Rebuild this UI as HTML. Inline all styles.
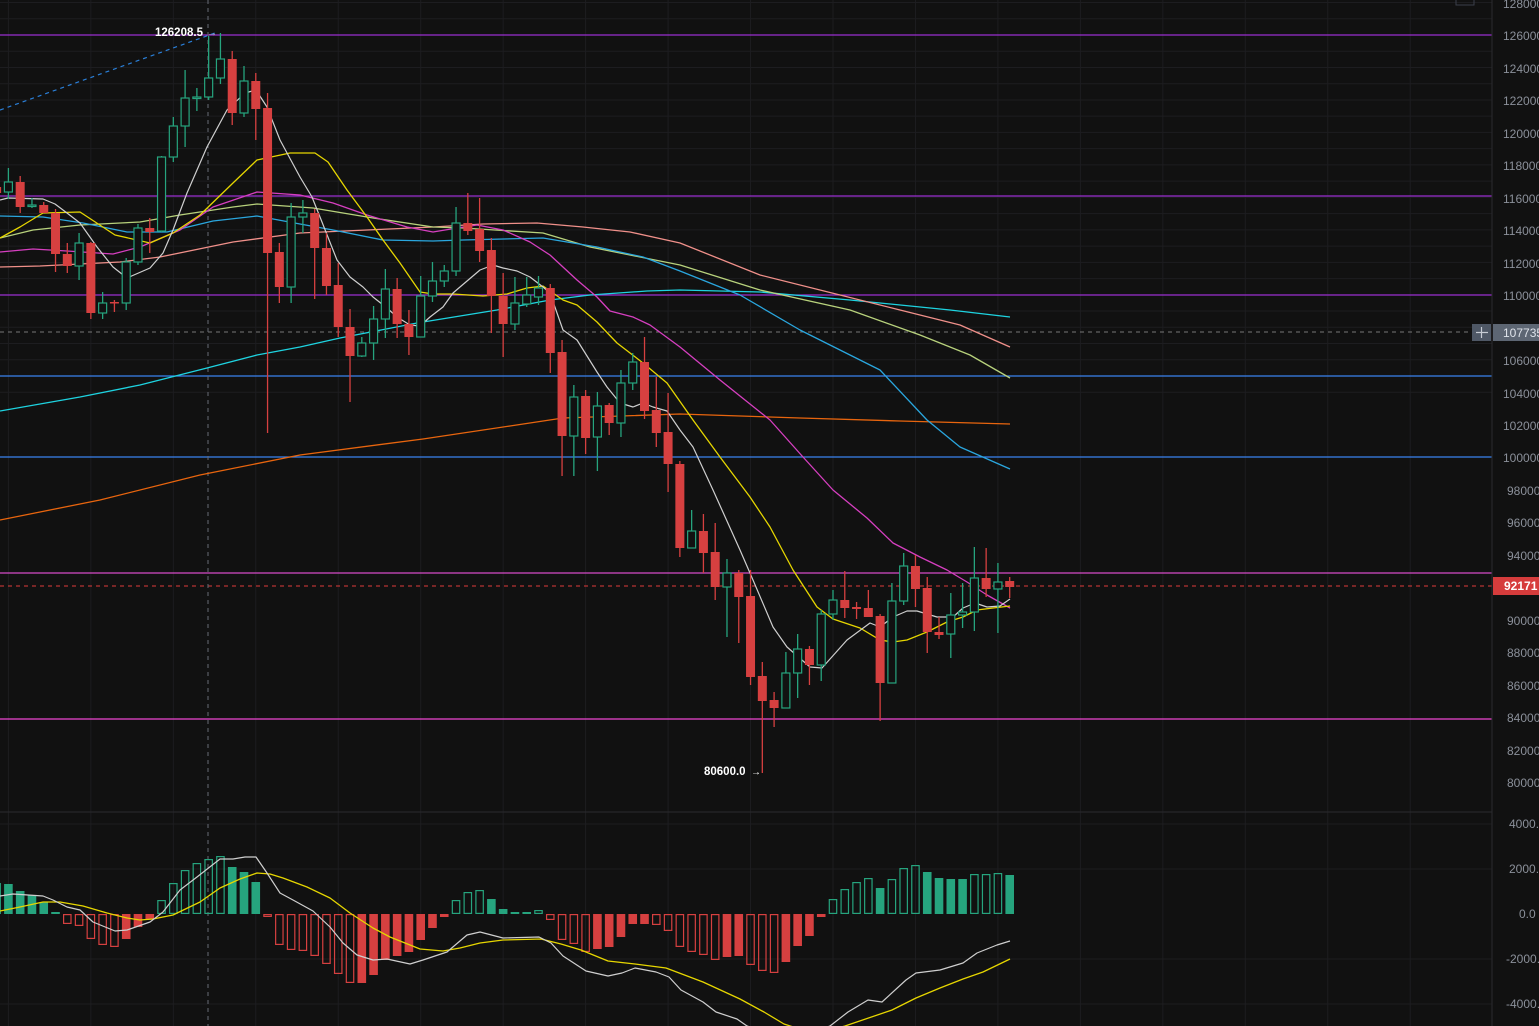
<!DOCTYPE html>
<html><head><meta charset="utf-8"><style>
html,body{margin:0;padding:0;background:#111111;overflow:hidden;}
svg{display:block;font-family:"Liberation Sans",sans-serif;}
</style></head><body>
<svg id="c" width="1539" height="1026" xmlns="http://www.w3.org/2000/svg">
<rect width="1539" height="1026" fill="#111111"/>
<g id="grid"></g>
<g id="hl">
<line x1="0" y1="35" x2="1492" y2="35" stroke="#9a2fd0" stroke-width="1.2"/>
<line x1="0" y1="196" x2="1492" y2="196" stroke="#9a2fd0" stroke-width="1.2"/>
<line x1="0" y1="295" x2="1492" y2="295" stroke="#9a2fd0" stroke-width="1.2"/>
<line x1="0" y1="332" x2="1470" y2="332" stroke="#777" stroke-width="1" stroke-dasharray="4,4"/>
<line x1="0" y1="376" x2="1492" y2="376" stroke="#3b82f0" stroke-width="1.2"/>
<line x1="0" y1="457" x2="1492" y2="457" stroke="#3b82f0" stroke-width="1.2"/>
<line x1="0" y1="573" x2="1492" y2="573" stroke="#d64bc8" stroke-width="1.2"/>
<line x1="0" y1="586" x2="1492" y2="586" stroke="#e03a3a" stroke-width="1" stroke-dasharray="4,4"/>
<line x1="0" y1="719" x2="1492" y2="719" stroke="#f046d4" stroke-width="1.3"/>
<line x1="208" y1="0" x2="208" y2="1026" stroke="#666a75" stroke-width="1" stroke-dasharray="4,4"/>
<line x1="0" y1="110" x2="215" y2="33" stroke="#2a7fd8" stroke-width="1.2" stroke-dasharray="4,4"/>
</g>
<g id="ma"></g>
<g id="candles"></g>
<g id="macd"></g>
<line x1="0" y1="812" x2="1539" y2="812" stroke="#2a2a2e" stroke-width="1"/>
<rect x="1492" y="0" width="47" height="1026" fill="#111111"/>
<line x1="1492" y1="0" x2="1492" y2="1026" stroke="#2a2a2e" stroke-width="1"/>
<rect x="1456" y="-2" width="18" height="7" fill="none" stroke="#3a3f4a"/>
<g fill="#8b909a" font-size="12">
<text x="1503" y="8">128000</text>
<text x="1503" y="40">126000</text>
<text x="1503" y="73">124000</text>
<text x="1503" y="105">122000</text>
<text x="1503" y="138">120000</text>
<text x="1503" y="170">118000</text>
<text x="1503" y="203">116000</text>
<text x="1503" y="235">114000</text>
<text x="1503" y="268">112000</text>
<text x="1503" y="300">110000</text>
<text x="1503" y="365">106000</text>
<text x="1503" y="398">104000</text>
<text x="1503" y="430">102000</text>
<text x="1503" y="462">100000</text>
<text x="1507" y="495">98000</text>
<text x="1507" y="527">96000</text>
<text x="1507" y="560">94000</text>
<text x="1507" y="625">90000</text>
<text x="1507" y="657">88000</text>
<text x="1507" y="690">86000</text>
<text x="1507" y="722">84000</text>
<text x="1507" y="755">82000</text>
<text x="1507" y="787">80000</text>
<text x="1509" y="828">4000.0</text>
<text x="1509" y="873">2000.0</text>
<text x="1519" y="918">0.0</text>
<text x="1506" y="963">-2000.0</text>
<text x="1506" y="1008">-4000.0</text>
</g>
<rect x="1472" y="324" width="19" height="17" fill="#4f5866"/>
<line x1="1476" y1="332.5" x2="1488" y2="332.5" stroke="#c8ccd4" stroke-width="1.2"/>
<line x1="1481.5" y1="327" x2="1481.5" y2="338" stroke="#c8ccd4" stroke-width="1.2"/>
<rect x="1493" y="324" width="46" height="17" fill="#5d6673"/>
<text x="1503" y="337" fill="#dfe3ea" font-size="12">107735</text>
<rect x="1493" y="577" width="46" height="18" fill="#d63c3c"/>
<text x="1504" y="590" fill="#ffffff" font-size="12" font-weight="bold">92171</text>
<text x="155" y="36" fill="#ffffff" font-size="11.5" font-weight="bold">126208.5</text>
<text x="207" y="36" fill="#aaaaaa" font-size="10">→</text>
<text x="704" y="775" fill="#ffffff" font-size="11.5" font-weight="bold">80600.0</text>
<text x="751" y="775" fill="#ffffff" font-size="10">→</text>
</svg>
<script>
var NS="http://www.w3.org/2000/svg";
function el(p,t,a){var e=document.createElementNS(NS,t);for(var k in a)e.setAttribute(k,a[k]);p.appendChild(e);return e;}
var X=function(i){return 8.4+11.78*i;};
var g=document.getElementById('grid');
for(var k=0;k<19;k++){var x=8.4+82.46*k;if(x<1492)el(g,'line',{x1:x,y1:0,x2:x,y2:1026,stroke:'#1d1d20','stroke-width':1});}
for(var k=0;k<25;k++){var y=2.5+16.24*k;el(g,'line',{x1:0,y1:y,x2:1492,y2:y,stroke:'#1d1d20','stroke-width':1});}
[824,869,959,1004].forEach(function(y){el(g,'line',{x1:0,y1:y,x2:1492,y2:y,stroke:'#1d1d20','stroke-width':1});});
var C=[[187,193,184,195],[192,182,168,199],[182,207,176,213],[206,205,198,208],[205,213,202,213],[213,254,209,272],[254,266,243,273],[266,243,233,280],[243,313,242,319],[313,303,292,319],[302,303,300,312],[303,262,258,310],[262,228,224,265],[228,232,218,253],[231,157,156,232],[157,126,117,162],[126,98,70,147],[98,97,88,111],[97,78,36,100],[78,59,33,84],[59,113,51,125],[113,81,66,117],[81,109,73,140],[108,253,93,433],[252,287,243,303],[287,217,203,303],[217,213,200,233],[213,248,209,299],[248,286,233,295],[285,327,263,337],[327,356,309,402],[356,343,337,357],[343,319,306,360],[319,289,269,338],[289,324,278,338],[324,337,310,355],[337,296,276,337],[296,281,262,302],[281,271,265,287],[271,223,207,276],[223,231,193,235],[229,251,198,262],[250,296,238,333],[296,324,273,357],[324,303,277,330],[304,295,277,307],[297,288,276,305],[288,353,284,373],[352,436,340,476],[436,397,385,476],[396,438,390,454],[437,406,392,471],[405,423,403,435],[423,383,370,437],[383,362,353,390],[362,411,337,419],[410,433,377,447],[432,464,393,492],[464,548,461,557],[548,531,510,548],[531,553,514,573],[552,587,523,600],[587,573,559,637],[573,597,570,643],[596,677,570,685],[676,701,662,773],[700,708,692,727],[708,673,652,708],[673,649,634,698],[649,665,646,685],[665,614,610,681],[614,600,590,620],[600,608,571,618],[607,609,602,619],[608,617,590,617],[616,683,614,721],[683,601,583,683],[601,566,553,605],[566,589,555,607],[588,632,577,653],[632,635,617,639],[634,615,593,658],[615,612,583,628],[612,578,547,631],[578,589,548,597],[589,582,563,633],[581,587,577,598]];
var G='#26a47e',R='#d64040';
var cg=document.getElementById('candles');
C.forEach(function(c,j){var i=j-1,x=X(i),up=c[1]<c[0],col=up?G:R;
var t=Math.min(c[0],c[1]),b=Math.max(c[0],c[1]);if(b-t<1.5)b=t+1.5;
el(cg,'line',{x1:x,y1:c[2],x2:x,y2:t,stroke:col,'stroke-width':1.3});
el(cg,'line',{x1:x,y1:b,x2:x,y2:c[3],stroke:col,'stroke-width':1.3});
if(up)el(cg,'rect',{x:x-4,y:t,width:8,height:b-t,fill:'#111111',stroke:col,'stroke-width':1.2});
else el(cg,'rect',{x:x-4.5,y:t,width:9,height:b-t,fill:col});});
function pl(p,pts,col,w){el(p,'polyline',{points:pts.map(function(q){return q.join(',');}).join(' '),fill:'none',stroke:col,'stroke-width':w||1.3,'stroke-linejoin':'round'});}
var m=document.getElementById('ma');
pl(m,[[0,520],[100,500],[200,475],[300,455],[423,439],[510,426],[563,418],[680,414],[800,418],[900,421],[1010,424]],'#e8650e');
pl(m,[[0,411],[80,397],[140,385],[207,368],[257,355],[300,347],[340,338],[417,323],[497,310],[550,300],[590,295],[647,291],[680,290],[760,292],[850,300],[950,310],[1010,317]],'#1ed3e0');
pl(m,[[0,267],[40,266],[120,262],[160,257],[233,242],[300,233],[367,230],[433,227],[483,224],[537,223],[583,227],[630,232],[680,243],[760,275],[840,295],[900,310],[960,325],[1010,347]],'#f0908a');
pl(m,[[0,238],[33,230],[80,225],[140,222],[180,215],[233,207],[257,204],[313,208],[373,218],[433,227],[463,228],[543,233],[590,247],[630,255],[680,265],[760,290],[850,310],[920,335],[970,355],[1010,378]],'#b8d27c');
pl(m,[[0,216],[43,217],[83,223],[127,232],[167,232],[213,221],[257,216],[300,224],[333,230],[383,240],[433,241],[463,240],[543,238],[597,247],[643,257],[680,271],[740,295],[800,330],[880,370],[927,420],[960,447],[1010,469]],'#2aa6de');
pl(m,[[0,252],[33,249],[67,251],[113,254],[140,247],[180,230],[213,207],[257,192],[300,195],[333,203],[367,215],[407,227],[433,232],[457,228],[477,225],[503,230],[530,242],[550,255],[577,280],[597,297],[610,311],[633,317],[650,325],[680,347],[720,380],[770,420],[803,457],[833,490],[867,518],[893,543],[920,557],[947,570],[967,582],[987,595],[1010,608]],'#d63fc0');
pl(m,[[0,238],[20,227],[43,213],[80,212],[115,235],[150,243],[173,233],[200,215],[233,183],[257,160],[290,153],[315,153],[328,162],[347,190],[367,217],[383,240],[400,263],[420,292],[433,294],[453,294],[483,296],[507,294],[527,288],[543,286],[563,300],[577,305],[597,322],[617,343],[643,363],[667,383],[693,420],[720,457],[750,497],[770,527],[793,570],[817,607],[833,619],[860,628],[880,640],[893,642],[907,640],[927,632],[947,622],[963,617],[977,610],[993,608],[1010,606]],'#e6d600');
pl(m,[[0,200],[8,198],[43,199],[55,204],[67,213],[80,223],[97,247],[113,267],[127,278],[150,268],[163,253],[173,230],[187,193],[207,147],[227,110],[245,93],[256,90],[267,107],[280,140],[300,177],[312,197],[320,217],[337,260],[350,277],[363,287],[373,297],[387,308],[397,317],[410,325],[420,326],[430,317],[443,307],[453,293],[460,287],[480,270],[493,265],[503,268],[517,271],[530,277],[543,287],[550,293],[563,330],[577,340],[597,372],[607,387],[620,403],[633,407],[643,403],[653,407],[667,411],[680,430],[693,447],[713,490],[740,550],[753,580],[773,627],[787,647],[810,667],[822,668],[847,640],[870,623],[880,627],[893,617],[907,611],[917,611],[937,617],[953,617],[963,608],[975,603],[987,607],[1000,606],[1010,599]],'#cfcfcf',1.2);
var H=[[883,1],[884,1],[891,1],[895,1],[902,1],[913,1],[924,0],[926,0],[939,0],[945,0],[947,0],[939,1],[927,1],[919,1],[900,0],[883,0],[870,0],[863,0],[859,0],[856,0],[867,1],[872,1],[882,1],[917,0],[945,0],[950,0],[951,0],[956,0],[964,0],[974,0],[983,0],[983,1],[975,1],[960,1],[956,1],[952,1],[940,1],[928,1],[917,1],[900,0],[892,0],[890,0],[899,1],[909,1],[912,1],[912,1],[910,0],[920,0],[940,0],[944,0],[952,0],[949,1],[947,1],[937,1],[924,1],[924,1],[925,0],[931,0],[947,0],[952,0],[955,0],[960,0],[957,1],[956,1],[965,0],[971,0],[973,0],[962,1],[946,1],[936,1],[917,1],[899,0],[889,0],[882,0],[878,0],[888,1],[879,0],[868,0],[865,0],[872,1],[878,1],[879,1],[879,1],[874,0],[874,0],[873,0],[875,1]];
var md=document.getElementById('macd');
H.forEach(function(h,j){var i=j-1,x=X(i),v=h[0],up=v<914,col=up?G:R;
var t=Math.min(v,914),b=Math.max(v,914);if(b-t<2){if(up)t=b-2;else b=t+2;}
if(h[1])el(md,'rect',{x:x-4.3,y:t,width:8.6,height:b-t,fill:col});
else el(md,'rect',{x:x-3.7,y:t+0.6,width:7.4,height:b-t-1.2,fill:'none',stroke:col,'stroke-width':1.2});});
pl(md,[[0,911],[20,907],[43,902],[60,902],[83,906],[107,913],[127,918],[140,920],[153,919],[173,915],[200,902],[220,888],[240,879],[257,873],[270,874],[283,878],[307,887],[330,898],[350,913],[373,928],[390,937],[420,949],[443,951],[460,948],[480,943],[503,940],[541,939],[561,944],[581,950],[608,961],[635,964],[666,968],[703,982],[740,999],[764,1012],[784,1024],[815,1034],[845,1026],[892,1010],[916,998],[940,988],[963,979],[983,972],[1010,959]],'#e6d600');
pl(md,[[0,896],[13,894],[43,896],[53,900],[67,907],[80,910],[93,922],[115,931],[127,930],[150,922],[163,912],[180,890],[197,877],[220,859],[233,859],[245,857],[256,857],[267,873],[280,893],[293,900],[313,911],[330,927],[343,943],[357,955],[373,960],[387,959],[410,964],[423,960],[447,952],[467,935],[480,932],[503,938],[539,937],[551,943],[563,956],[586,971],[608,976],[622,973],[635,968],[656,972],[669,977],[681,990],[703,1002],[716,1012],[737,1019],[747,1026],[790,1040],[830,1026],[848,1012],[868,1000],[882,1002],[906,980],[916,973],[940,970],[963,963],[977,953],[997,945],[1010,941]],'#cfcfcf',1.2);
</script>
</body></html>
